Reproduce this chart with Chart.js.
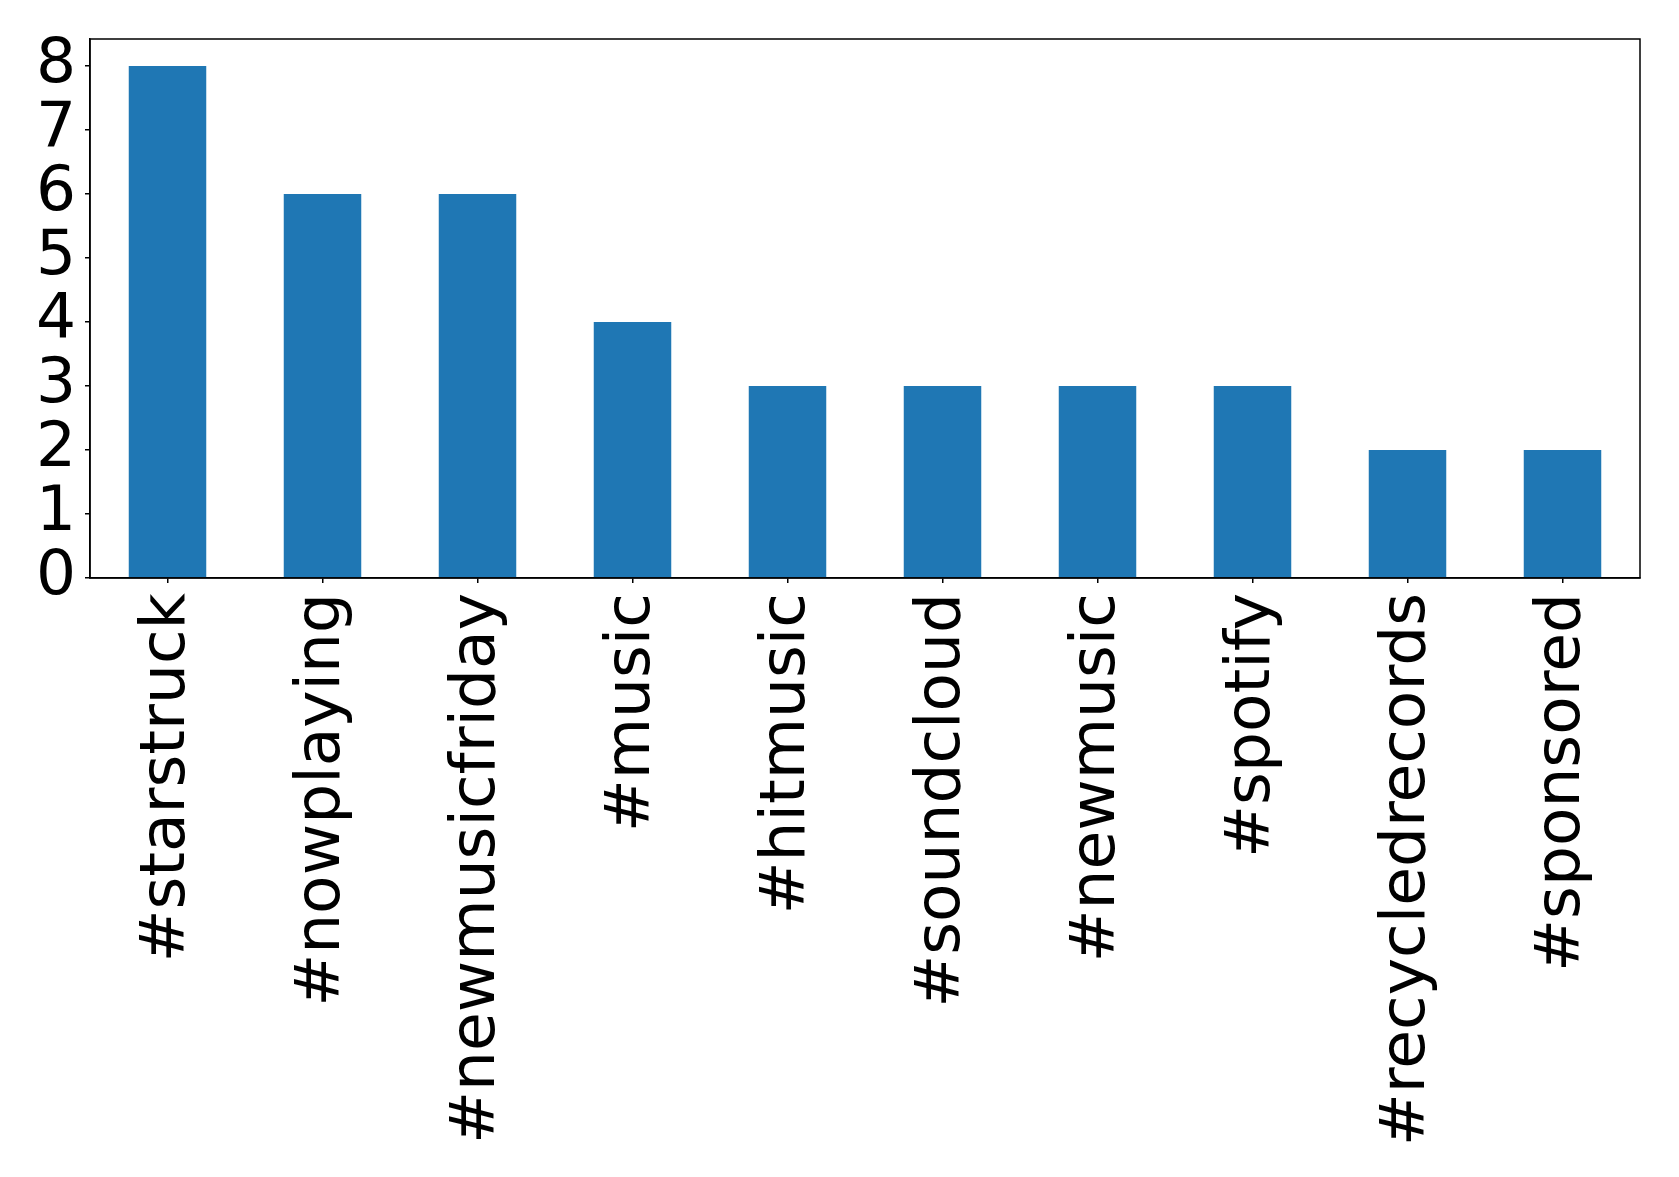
<!DOCTYPE html>
<html>
<head>
<meta charset="utf-8">
<script src="https://cdn.jsdelivr.net/npm/chart.js@4"></script>
<style>
    html, body { margin: 0; padding: 0; background: #fff; }
    #wrap { width: 1679px; height: 1177px; }
</style>
</head>
<body>
<div id="wrap"><canvas id="hashtag-chart"></canvas></div>
<script>
const hashtags = ['#starstruck', '#nowplaying', '#newmusicfriday', '#music', '#hitmusic',
    '#soundcloud', '#newmusic', '#spotify', '#recycledrecords', '#sponsored'];
const counts = [8, 6, 6, 4, 3, 3, 3, 3, 2, 2];
const yTicks = [0, 1, 2, 3, 4, 5, 6, 7, 8];

const tickFont = { family: 'DejaVu Sans', size: 63 };

// matplotlib-style box round the plot area
const frame = {
    id: 'frame',
    afterDraw(chart) {
        const { ctx, chartArea: a } = chart;
        ctx.save();
        ctx.strokeStyle = '#000';
        ctx.lineWidth = 1.5;
        ctx.strokeRect(a.left, a.top, a.right - a.left, a.bottom - a.top);
        ctx.restore();
    },
};

document.addEventListener('DOMContentLoaded', () => {
    const ctx = document.getElementById('hashtag-chart').getContext('2d');
    new Chart(ctx, {
        type: 'bar',
        data: {
            labels: hashtags,
            datasets: [{
                data: counts,
                backgroundColor: '#1f77b4',
                borderWidth: 0,
                categoryPercentage: 1,
                barPercentage: 0.5,
            }],
        },
        options: {
            responsive: true,
            maintainAspectRatio: false,
            animation: false,
            devicePixelRatio: 1,
            layout: { padding: { top: 39, right: 39, left: 0, bottom: 0 } },
            plugins: {
                legend: { display: false },
                tooltip: { enabled: false },
            },
            scales: {
                x: {
                    offset: true,
                    grid: { offset: false, drawOnChartArea: false, drawTicks: true, tickLength: 5, color: '#000', lineWidth: 1.5 },
                    border: { display: true, color: '#000', width: 1.5 },
                    ticks: {
                        font: tickFont,
                        color: '#000',
                        maxRotation: 90,
                        minRotation: 90,
                        autoSkip: false,
                        padding: 10,
                    },
                    afterFit(scale) {
                        scale.height = 599;
                        scale.paddingLeft = 0;
                        scale.paddingRight = 0;
                    },
                },
                y: {
                    min: 0,
                    max: 8.42,
                    afterBuildTicks(scale) {
                        scale.ticks = yTicks.map((v) => ({ value: v }));
                    },
                    grid: { drawOnChartArea: false, drawTicks: true, tickLength: 5, color: '#000', lineWidth: 1.5 },
                    border: { display: true, color: '#000', width: 1.5 },
                    ticks: {
                        font: tickFont,
                        color: '#000',
                        autoSkip: false,
                        padding: 9,
                    },
                    afterFit(scale) {
                        scale.width = 90;
                        scale.paddingTop = 0;
                        scale.paddingBottom = 0;
                    },
                },
            },
        },
        plugins: [frame],
    });
});
</script>
</body>
</html>
